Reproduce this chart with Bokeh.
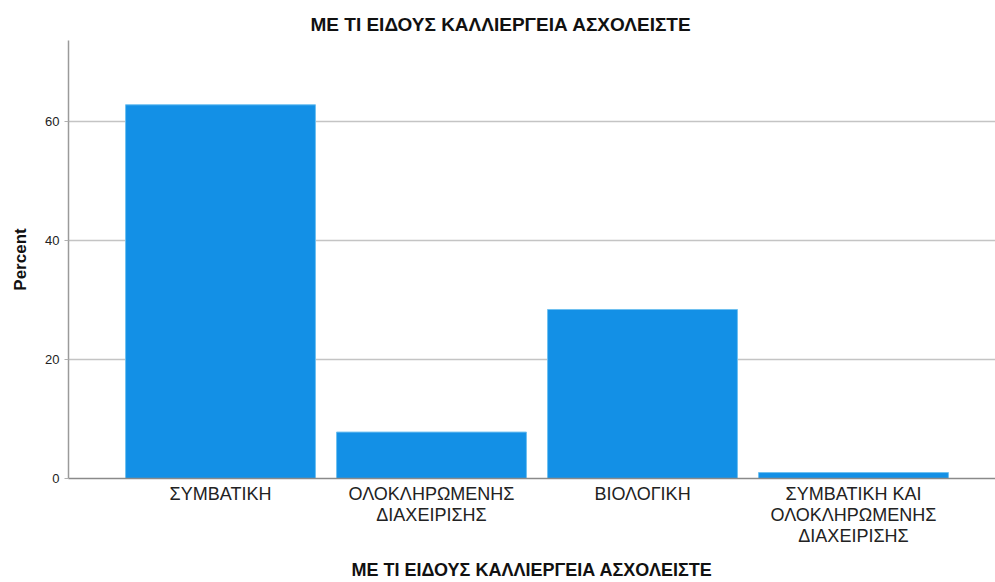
from bokeh.plotting import figure
from bokeh.models import FixedTicker, Range1d, ColumnDataSource
from bokeh.embed import file_html
from bokeh.resources import INLINE

title_text = "ΜΕ ΤΙ ΕΙΔΟΥΣ ΚΑΛΛΙΕΡΓΕΙΑ ΑΣΧΟΛΕΙΣΤΕ"
categories = ["ΣΥΜΒΑΤΙΚΗ", "ΟΛΟΚΛΗΡΩΜΕΝΗΣ\nΔΙΑΧΕΙΡΙΣΗΣ", "ΒΙΟΛΟΓΙΚΗ",
              "ΣΥΜΒΑΤΙΚΗ ΚΑΙ\nΟΛΟΚΛΗΡΩΜΕΝΗΣ\nΔΙΑΧΕΙΡΙΣΗΣ"]
percent = [62.8, 7.8, 28.4, 1.0]
y_ticks = [0, 20, 40, 60]

positions = list(range(len(categories)))
source = ColumnDataSource(data=dict(x=positions, top=percent))

p = figure(width=995, height=582, output_backend="svg", toolbar_location=None,
           x_range=Range1d(-0.7204, 3.673), y_range=Range1d(0, 73.6),
           min_border_left=68, min_border_right=0, min_border_top=40,
           min_border_bottom=104)

p.vbar(x="x", top="top", width=0.9, source=source, fill_color="#1390E6",
       line_color="#6FC0F0", line_width=1)

p.title.text = title_text
p.title.align = "left"
p.title.offset = 242
p.title.text_font = "Liberation Sans"
p.title.text_font_size = "19px"
p.title.text_font_style = "bold"
p.title.text_color = "#111111"
p.title.standoff = 11

p.outline_line_color = None
p.background_fill_color = "white"
p.border_fill_color = "white"

# x axis
p.xaxis.ticker = FixedTicker(ticks=positions)
p.xaxis.major_label_overrides = {i: c for i, c in enumerate(categories)}
p.xaxis.major_tick_line_color = None
p.xaxis.minor_tick_line_color = None
p.xaxis.major_tick_out = 0
p.xaxis.major_tick_in = 0
p.xaxis.axis_line_color = "#8a8a8a"
p.xaxis.axis_line_width = 1.5
p.xaxis.major_label_text_font = "Liberation Sans"
p.xaxis.major_label_text_font_size = "18px"
p.xaxis.major_label_text_line_height = 1.05
p.xaxis.major_label_text_color = "#222222"
p.xaxis.major_label_standoff = 5
p.xaxis.axis_label = title_text
p.xaxis.axis_label_text_font = "Liberation Sans"
p.xaxis.axis_label_text_font_size = "18px"
p.xaxis.axis_label_text_font_style = "bold"
p.xaxis.axis_label_text_color = "#111111"
p.xaxis.axis_label_standoff = 11
p.xgrid.grid_line_color = None

# y axis
p.yaxis.ticker = FixedTicker(ticks=y_ticks)
p.yaxis.minor_tick_line_color = None
p.yaxis.major_tick_in = 0
p.yaxis.major_tick_out = 4
p.yaxis.major_tick_line_color = "#b0b0b0"
p.yaxis.axis_line_color = "#9a9a9a"
p.yaxis.axis_line_width = 1.5
p.yaxis.major_label_text_font = "Liberation Sans"
p.yaxis.major_label_text_font_size = "13px"
p.yaxis.major_label_text_color = "#222222"
p.yaxis.major_label_standoff = 5
p.yaxis.axis_label = "Percent"
p.yaxis.axis_label_text_font = "Liberation Sans"
p.yaxis.axis_label_text_font_size = "17px"
p.yaxis.axis_label_text_font_style = "bold"
p.yaxis.axis_label_text_color = "#111111"
p.yaxis.axis_label_standoff = 12
p.ygrid.grid_line_color = "#c4c4c4"
p.ygrid.grid_line_width = 1.5

open("out.html", "w").write(file_html(p, INLINE))
